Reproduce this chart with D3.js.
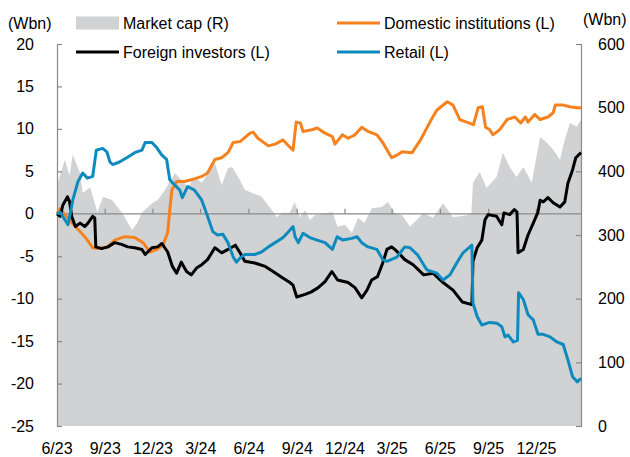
<!DOCTYPE html>
<html>
<head>
<meta charset="utf-8">
<script src="https://cdn.jsdelivr.net/npm/d3@7"></script>
<style>
    html, body { margin: 0; padding: 0; background: #fff; }
    svg { display: block; font-family: 'Liberation Sans', Arial, sans-serif; }
    .tick-label { font-size: 16px; fill: #000; }
</style>
</head>
<body>
<svg id="chart" width="630" height="457"></svg>
<script>
/* Investor flows vs market cap (cumulative, Wbn) */

// Market cap, right axis (Wbn)
const marketCap = [
    ['2023-06-01', 378], ['2023-06-16', 418], ['2023-06-25', 394], ['2023-07-01', 426],
    ['2023-07-15', 397], ['2023-07-20', 366], ['2023-08-03', 375], ['2023-08-17', 336],
    ['2023-08-28', 360], ['2023-09-14', 355], ['2023-10-03', 335], ['2023-10-22', 308],
    ['2023-11-01', 319], ['2023-11-10', 335], ['2023-11-29', 350], ['2023-12-10', 355],
    ['2023-12-24', 371], ['2024-01-12', 397], ['2024-01-25', 386], ['2024-02-06', 375],
    ['2024-02-18', 391], ['2024-03-03', 382], ['2024-03-28', 413], ['2024-04-10', 378],
    ['2024-04-22', 405], ['2024-04-30', 407], ['2024-05-15', 386], ['2024-05-24', 371],
    ['2024-06-07', 366], ['2024-06-25', 360], ['2024-07-15', 339], ['2024-07-24', 328],
    ['2024-08-03', 335], ['2024-08-18', 335], ['2024-08-27', 352], ['2024-09-06', 328],
    ['2024-09-16', 339], ['2024-09-25', 324], ['2024-10-05', 331], ['2024-10-24', 334],
    ['2024-11-07', 336], ['2024-11-17', 313], ['2024-12-01', 316], ['2024-12-14', 303],
    ['2024-12-26', 327], ['2025-01-07', 319], ['2025-01-21', 342], ['2025-02-09', 344],
    ['2025-02-21', 352], ['2025-03-06', 334], ['2025-03-20', 331], ['2025-04-04', 313],
    ['2025-04-29', 334], ['2025-05-18', 327], ['2025-06-06', 350], ['2025-06-25', 328],
    ['2025-07-21', 331], ['2025-07-30', 334], ['2025-08-02', 382], ['2025-08-15', 399],
    ['2025-08-28', 374], ['2025-09-16', 391], ['2025-09-28', 429], ['2025-10-11', 407],
    ['2025-10-24', 391], ['2025-11-06', 407], ['2025-11-22', 382], ['2025-12-08', 454],
    ['2025-12-21', 445], ['2026-01-02', 434], ['2026-01-15', 418], ['2026-01-24', 450],
    ['2026-02-03', 476], ['2026-02-16', 470], ['2026-02-24', 481]
];

// Domestic institutions, left axis (Wbn)
const domestic = [
    ['2023-06-01', 0.0], ['2023-06-07', 0.6], ['2023-06-16', -0.1], ['2023-07-06', -1.5],
    ['2023-07-24', -2.7], ['2023-08-08', -4.0], ['2023-08-18', -4.1], ['2023-09-06', -3.9],
    ['2023-09-19', -3.1], ['2023-10-08', -2.7], ['2023-10-27', -2.8], ['2023-11-12', -3.4],
    ['2023-11-25', -4.5], ['2023-12-08', -4.2], ['2023-12-20', -3.7], ['2023-12-29', -2.2],
    ['2024-01-02', 0.5], ['2024-01-06', 2.8], ['2024-01-15', 3.8], ['2024-01-30', 3.8],
    ['2024-02-12', 4.0], ['2024-03-03', 4.4], ['2024-03-14', 4.8], ['2024-03-28', 6.4],
    ['2024-04-10', 6.6], ['2024-04-22', 7.2], ['2024-05-02', 8.4], ['2024-05-15', 8.5],
    ['2024-06-03', 9.5], ['2024-06-09', 9.6], ['2024-06-18', 8.9], ['2024-07-08', 8.0],
    ['2024-07-21', 8.2], ['2024-08-05', 8.7], ['2024-08-14', 8.1], ['2024-08-24', 7.5],
    ['2024-08-30', 10.8], ['2024-09-07', 10.7], ['2024-09-12', 9.7], ['2024-09-29', 9.9],
    ['2024-10-09', 10.1], ['2024-10-24', 9.5], ['2024-11-07', 9.1], ['2024-11-12', 8.2],
    ['2024-11-26', 9.3], ['2024-12-07', 8.9], ['2024-12-20', 9.3], ['2025-01-02', 10.2],
    ['2025-01-14', 9.7], ['2025-01-31', 9.3], ['2025-02-11', 8.4], ['2025-02-28', 6.6],
    ['2025-03-10', 6.9], ['2025-03-20', 7.3], ['2025-04-08', 7.2], ['2025-04-24', 8.7],
    ['2025-05-12', 10.8], ['2025-05-25', 12.2], ['2025-06-14', 13.2], ['2025-06-25', 12.8],
    ['2025-07-08', 11.1], ['2025-07-21', 10.8], ['2025-08-03', 10.5], ['2025-08-12', 12.5],
    ['2025-08-20', 12.6], ['2025-08-26', 10.2], ['2025-09-03', 9.9], ['2025-09-09', 9.3],
    ['2025-09-22', 9.9], ['2025-10-06', 11.1], ['2025-10-21', 11.4], ['2025-11-01', 10.7],
    ['2025-11-10', 11.4], ['2025-11-15', 10.8], ['2025-11-28', 11.7], ['2025-12-08', 11.1],
    ['2025-12-23', 11.4], ['2026-01-02', 11.9], ['2026-01-06', 12.8], ['2026-01-21', 12.8],
    ['2026-02-03', 12.6], ['2026-02-16', 12.5], ['2026-02-24', 12.5]
];

// Foreign investors, left axis (Wbn)
const foreign = [
    ['2023-06-01', 0.0], ['2023-06-07', -0.3], ['2023-06-12', 1.0], ['2023-06-21', 2.0],
    ['2023-06-25', 1.4], ['2023-06-29', -0.3], ['2023-07-06', -1.5], ['2023-07-15', -1.1],
    ['2023-07-24', -1.5], ['2023-07-30', -1.1], ['2023-08-08', -0.3], ['2023-08-12', -0.5],
    ['2023-08-14', -3.9], ['2023-08-25', -4.1], ['2023-09-06', -3.9], ['2023-09-19', -3.4],
    ['2023-10-02', -3.6], ['2023-10-14', -3.9], ['2023-10-27', -4.0], ['2023-11-10', -4.2],
    ['2023-11-16', -4.8], ['2023-11-29', -4.0], ['2023-12-10', -3.9], ['2023-12-18', -3.5],
    ['2023-12-29', -4.5], ['2024-01-07', -6.2], ['2024-01-15', -7.0], ['2024-01-24', -5.7],
    ['2024-02-03', -6.8], ['2024-02-12', -7.2], ['2024-02-22', -6.4], ['2024-03-03', -6.0],
    ['2024-03-14', -5.4], ['2024-03-28', -4.0], ['2024-04-10', -4.6], ['2024-04-22', -4.2],
    ['2024-05-06', -3.7], ['2024-05-15', -4.6], ['2024-05-24', -5.6], ['2024-06-12', -5.8],
    ['2024-07-02', -6.2], ['2024-07-17', -6.8], ['2024-08-03', -7.5], ['2024-08-18', -8.1],
    ['2024-08-24', -8.4], ['2024-08-31', -9.8], ['2024-09-16', -9.5], ['2024-09-28', -9.2],
    ['2024-10-11', -8.7], ['2024-10-24', -8.0], ['2024-11-06', -6.8], ['2024-11-17', -7.8],
    ['2024-12-07', -8.1], ['2024-12-20', -8.7], ['2025-01-02', -9.9], ['2025-01-12', -9.0],
    ['2025-01-21', -7.8], ['2025-02-01', -7.4], ['2025-02-11', -5.8], ['2025-02-19', -4.2],
    ['2025-02-28', -3.9], ['2025-03-06', -4.2], ['2025-03-16', -4.8], ['2025-03-25', -5.4],
    ['2025-04-10', -6.0], ['2025-04-30', -7.2], ['2025-05-18', -7.0], ['2025-06-06', -8.1],
    ['2025-06-25', -9.0], ['2025-07-13', -10.4], ['2025-07-31', -10.7], ['2025-08-02', -5.6],
    ['2025-08-10', -4.0], ['2025-08-19', -3.1], ['2025-08-25', -0.7], ['2025-08-31', -0.1],
    ['2025-09-16', -0.3], ['2025-09-26', -1.3], ['2025-09-30', 0.1], ['2025-10-11', -0.1],
    ['2025-10-20', 0.5], ['2025-10-25', 0.2], ['2025-10-27', -4.6], ['2025-11-06', -4.2],
    ['2025-11-15', -2.5], ['2025-11-25', -1.1], ['2025-12-04', 0.2], ['2025-12-08', 1.6],
    ['2025-12-14', 1.4], ['2025-12-23', 1.9], ['2026-01-02', 1.3], ['2026-01-15', 0.8],
    ['2026-01-24', 1.4], ['2026-01-30', 3.6], ['2026-02-08', 5.2], ['2026-02-14', 6.6],
    ['2026-02-24', 7.2]
];

// Retail, left axis (Wbn)
const retail = [
    ['2023-06-01', 0.0], ['2023-06-07', 0.2], ['2023-06-16', -0.7], ['2023-06-22', -1.3],
    ['2023-07-01', 1.6], ['2023-07-11', 3.8], ['2023-07-20', 4.8], ['2023-07-29', 4.2],
    ['2023-08-08', 4.4], ['2023-08-15', 7.5], ['2023-08-27', 7.7], ['2023-09-04', 7.3],
    ['2023-09-10', 6.1], ['2023-09-15', 5.8], ['2023-09-28', 6.1], ['2023-10-12', 6.6],
    ['2023-10-27', 7.2], ['2023-11-10', 7.5], ['2023-11-16', 8.4], ['2023-11-29', 8.4],
    ['2023-12-08', 7.8], ['2023-12-18', 6.9], ['2023-12-27', 6.4], ['2024-01-02', 4.0],
    ['2024-01-08', 3.6], ['2024-01-21', 2.8], ['2024-01-26', 1.9], ['2024-02-05', 3.2],
    ['2024-02-18', 2.8], ['2024-03-03', 1.6], ['2024-03-14', -0.3], ['2024-03-24', -2.1],
    ['2024-04-02', -2.5], ['2024-04-12', -2.4], ['2024-04-22', -3.4], ['2024-05-02', -5.1],
    ['2024-05-08', -5.7], ['2024-05-15', -5.2], ['2024-05-24', -4.8], ['2024-06-12', -4.8],
    ['2024-06-25', -4.5], ['2024-07-08', -3.9], ['2024-07-21', -3.4], ['2024-08-05', -2.8],
    ['2024-08-14', -2.2], ['2024-08-24', -1.5], ['2024-08-28', -2.7], ['2024-09-03', -3.4],
    ['2024-09-12', -2.3], ['2024-09-25', -2.8], ['2024-10-09', -3.1], ['2024-10-24', -3.4],
    ['2024-11-07', -4.2], ['2024-11-16', -2.7], ['2024-11-27', -3.1], ['2024-12-14', -2.9],
    ['2024-12-24', -2.7], ['2025-01-02', -3.4], ['2025-01-14', -3.9], ['2025-01-31', -4.2],
    ['2025-02-11', -5.4], ['2025-02-19', -5.6], ['2025-03-10', -5.1], ['2025-03-25', -3.9],
    ['2025-04-04', -4.0], ['2025-04-18', -4.8], ['2025-05-06', -6.6], ['2025-05-25', -7.0],
    ['2025-06-06', -7.8], ['2025-06-19', -7.2], ['2025-07-02', -5.8], ['2025-07-14', -4.6],
    ['2025-07-31', -3.7], ['2025-08-02', -10.5], ['2025-08-10', -12.1], ['2025-08-19', -13.1],
    ['2025-09-03', -12.8], ['2025-09-17', -12.9], ['2025-09-26', -13.3], ['2025-10-02', -14.5],
    ['2025-10-08', -14.3], ['2025-10-18', -15.1], ['2025-10-26', -14.9], ['2025-10-28', -9.3],
    ['2025-11-06', -10.1], ['2025-11-15', -11.9], ['2025-11-25', -12.5], ['2025-12-04', -14.2],
    ['2025-12-14', -14.2], ['2025-12-27', -14.5], ['2026-01-09', -15.1], ['2026-01-21', -15.4],
    ['2026-01-30', -17.2], ['2026-02-08', -19.2], ['2026-02-17', -19.8], ['2026-02-24', -19.4]
];

const xTickDates = ['2023-06-01', '2023-09-01', '2023-12-01', '2024-03-01', '2024-06-01', '2024-09-01',
    '2024-12-01', '2025-03-01', '2025-06-01', '2025-09-01', '2025-12-01'];
const xTickLabels = ['6/23', '9/23', '12/23', '3/24', '6/24', '9/24', '12/24', '3/25', '6/25', '9/25', '12/25'];
const leftTicks = [20, 15, 10, 5, 0, -5, -10, -15, -20, -25];
const rightTicks = [600, 500, 400, 300, 200, 100, 0];
const xDomain = ['2023-06-01', '2026-02-24'];

(function() {
    'use strict';

    const parse = d3.timeParse('%Y-%m-%d');
    const colors = {
        cap: '#d1d2d4',
        domestic: '#f5821f',
        foreign: '#000000',
        retail: '#0e8bbe',
        axis: '#8a8a8a'
    };

    const margin = { top: 44, right: 49, bottom: 31, left: 57 };
    const width = 630, height = 457;
    const innerWidth = width - margin.left - margin.right;
    const innerHeight = height - margin.top - margin.bottom;

    const svg = d3.select('#chart');
    const g = svg.append('g').attr('transform', `translate(${margin.left},${margin.top})`);

    // Scales
    const x = d3.scaleTime().domain(xDomain.map(parse)).range([0, innerWidth]);
    const yL = d3.scaleLinear().domain([-25, 20]).range([innerHeight, 0]);
    const yR = d3.scaleLinear().domain([0, 600]).range([innerHeight, 0]);

    // Market cap area
    const area = d3.area()
        .x(d => x(parse(d[0])))
        .y0(yR(0))
        .y1(d => yR(d[1]));

    g.append('path')
        .datum(marketCap)
        .attr('fill', colors.cap)
        .attr('d', area);

    // Zero line with upward ticks, labels at bottom
    g.append('line')
        .attr('x1', 0).attr('x2', innerWidth)
        .attr('y1', yL(0)).attr('y2', yL(0))
        .attr('stroke', colors.axis).attr('stroke-width', 1.2);

    g.selectAll('.xtick')
        .data(xTickDates.slice(1))
        .enter().append('line')
        .attr('class', 'xtick')
        .attr('x1', d => x(parse(d))).attr('x2', d => x(parse(d)))
        .attr('y1', yL(0)).attr('y2', yL(0) - 5)
        .attr('stroke', colors.axis).attr('stroke-width', 1.2);

    g.selectAll('.xlabel')
        .data(xTickDates)
        .enter().append('text')
        .attr('class', 'tick-label')
        .attr('x', d => x(parse(d)))
        .attr('y', innerHeight + 28)
        .attr('text-anchor', 'middle')
        .text((d, i) => xTickLabels[i]);

    // Left axis
    const leftAxis = g.append('g')
        .call(d3.axisRight(yL).tickValues(leftTicks).tickSize(5).tickFormat(''));
    leftAxis.select('.domain').attr('stroke', colors.axis).attr('stroke-width', 1.2);
    leftAxis.selectAll('.tick line').attr('stroke', colors.axis).attr('stroke-width', 1.2);

    g.selectAll('.ylabel')
        .data(leftTicks)
        .enter().append('text')
        .attr('class', 'tick-label')
        .attr('x', -23)
        .attr('y', d => yL(d))
        .attr('dy', '0.35em')
        .attr('text-anchor', 'end')
        .text(d => d);

    // Right axis
    const rightAxis = g.append('g')
        .attr('transform', `translate(${innerWidth},0)`)
        .call(d3.axisLeft(yR).tickValues(rightTicks).tickSize(5).tickFormat(''));
    rightAxis.select('.domain').attr('stroke', colors.axis).attr('stroke-width', 1.2);
    rightAxis.selectAll('.tick line').attr('stroke', colors.axis).attr('stroke-width', 1.2);

    g.selectAll('.rlabel')
        .data(rightTicks)
        .enter().append('text')
        .attr('class', 'tick-label')
        .attr('x', innerWidth + 17)
        .attr('y', d => yR(d))
        .attr('dy', '0.35em')
        .attr('text-anchor', 'start')
        .text(d => d);

    // Lines
    const line = d3.line()
        .x(d => x(parse(d[0])))
        .y(d => yL(d[1]));

    [[domestic, colors.domestic], [foreign, colors.foreign], [retail, colors.retail]]
        .forEach(([data, color]) => {
            g.append('path')
                .datum(data)
                .attr('fill', 'none')
                .attr('stroke', color)
                .attr('stroke-width', 3)
                .attr('stroke-linejoin', 'round')
                .attr('d', line);
        });

    // Unit labels
    svg.append('text').attr('class', 'tick-label')
        .attr('x', 8).attr('y', 29).text('(Wbn)');
    svg.append('text').attr('class', 'tick-label')
        .attr('x', 583).attr('y', 25).text('(Wbn)');

    // Legend
    const legend = [
        { label: 'Market cap (R)', color: colors.cap, type: 'rect', x: 76, y: 23 },
        { label: 'Foreign investors (L)', color: colors.foreign, type: 'line', x: 76, y: 52 },
        { label: 'Domestic institutions (L)', color: colors.domestic, type: 'line', x: 337, y: 23 },
        { label: 'Retail (L)', color: colors.retail, type: 'line', x: 337, y: 52 }
    ];

    legend.forEach(item => {
        if (item.type === 'rect') {
            svg.append('rect')
                .attr('x', item.x).attr('y', item.y - 6.5)
                .attr('width', 43).attr('height', 13)
                .attr('fill', item.color);
        } else {
            svg.append('line')
                .attr('x1', item.x).attr('x2', item.x + 43)
                .attr('y1', item.y).attr('y2', item.y)
                .attr('stroke', item.color).attr('stroke-width', 3);
        }
        svg.append('text')
            .attr('class', 'tick-label')
            .attr('x', item.x + 47)
            .attr('y', item.y + 6)
            .text(item.label);
    });
})();
</script>
</body>
</html>
